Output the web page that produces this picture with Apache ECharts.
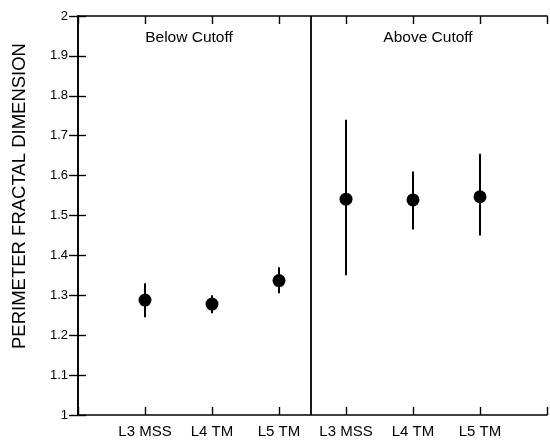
<!DOCTYPE html>
<html>
<head>
<meta charset="utf-8">
<script src="https://cdn.jsdelivr.net/npm/echarts@6/dist/echarts.min.js"></script>
<style>html,body{margin:0;padding:0;background:#fff}#c{width:550px;height:441px}</style>
</head>
<body>
<div id="c"></div>
<script>
// ---- data ----
var positions = [1, 2, 3, 4, 5, 6];
var categories = ['L3 MSS', 'L4 TM', 'L5 TM', 'L3 MSS', 'L4 TM', 'L5 TM'];
var means = [1.288, 1.278, 1.337, 1.541, 1.539, 1.547];
var upper = [1.33, 1.30, 1.37, 1.74, 1.61, 1.655];
var lower = [1.245, 1.255, 1.305, 1.35, 1.465, 1.45];
var dividerX = 3.466;
var panelLabels = ['Below Cutoff', 'Above Cutoff'];
var yTitle = 'PERIMETER FRACTAL DIMENSION';

var FONT = '"Liberation Sans", Arial, Helvetica, sans-serif';
var chart = echarts.init(document.getElementById('c'), null, {renderer: 'canvas'});

var pointData = positions.map(function (p, i) { return [p, means[i]]; });
var barData = positions.map(function (p, i) { return [p, lower[i], upper[i]]; });

function catLabel(v) {
  var r = Math.round(v);
  var i = positions.indexOf(r);
  return (Math.abs(v - r) < 1e-6 && i >= 0) ? categories[i] : '';
}

var axisLineStyle = {color: '#000', width: 1.6};
var tickStyle = {color: '#000', width: 1.4};

var option = {
  backgroundColor: '#fff',
  animation: false,
  grid: {left: 78, top: 16, width: 474, height: 399, containLabel: false},
  xAxis: [{
    type: 'value', min: 0, max: 7, interval: 1, position: 'bottom',
    splitLine: {show: false},
    axisLine: {show: true, lineStyle: axisLineStyle},
    axisTick: {show: true, inside: true, length: 8, lineStyle: tickStyle},
    axisLabel: {formatter: catLabel, color: '#000', fontSize: 15, fontFamily: FONT, margin: 9}
  }, {
    type: 'value', min: 0, max: 7, interval: 1, position: 'top',
    splitLine: {show: false},
    axisLine: {show: true, lineStyle: axisLineStyle},
    axisTick: {show: true, inside: true, length: 8, lineStyle: tickStyle},
    axisLabel: {show: false}
  }],
  yAxis: [{
    type: 'value', min: 1, max: 2, interval: 0.1, position: 'left',
    splitLine: {show: false},
    axisLine: {show: true, lineStyle: axisLineStyle},
    axisTick: {show: true, inside: true, length: 8, lineStyle: tickStyle},
    axisLabel: {
      formatter: function (v) { return String(Math.round(v * 10) / 10); },
      color: '#000', fontSize: 13, fontFamily: FONT, margin: 10
    }
  }, {
    type: 'value', min: 1, max: 2, interval: 0.1, position: 'right',
    splitLine: {show: false},
    axisLine: {show: true, lineStyle: axisLineStyle},
    axisTick: {show: true, inside: true, length: 9, lineStyle: tickStyle},
    axisLabel: {show: false}
  }],
  series: [{
    type: 'custom',
    xAxisIndex: 0, yAxisIndex: 0,
    data: barData,
    renderItem: function (params, api) {
      var top = api.coord([api.value(0), api.value(2)]);
      var bot = api.coord([api.value(0), api.value(1)]);
      return {
        type: 'line',
        shape: {x1: top[0], y1: top[1], x2: bot[0], y2: bot[1]},
        style: {stroke: '#000', lineWidth: 2}
      };
    },
    z: 2
  }, {
    type: 'scatter',
    xAxisIndex: 0, yAxisIndex: 0,
    data: pointData,
    symbol: 'circle', symbolSize: 13,
    itemStyle: {color: '#000', opacity: 1},
    emphasis: {disabled: true},
    z: 3
  }, {
    type: 'line',
    xAxisIndex: 0, yAxisIndex: 0,
    data: [],
    markLine: {
      silent: true, symbol: ['none', 'none'],
      label: {show: false},
      lineStyle: {color: '#000', width: 1.8, type: 'solid', opacity: 1},
      data: [{xAxis: dividerX}]
    }
  }],
  graphic: [{
    type: 'text', x: 189, y: 38,
    style: {text: panelLabels[0], fill: '#000', font: '15.5px ' + FONT, textAlign: 'center', textVerticalAlign: 'middle'}
  }, {
    type: 'text', x: 428, y: 38,
    style: {text: panelLabels[1], fill: '#000', font: '15.5px ' + FONT, textAlign: 'center', textVerticalAlign: 'middle'}
  }, {
    type: 'text', x: 20, y: 196, rotation: Math.PI / 2,
    style: {text: yTitle, fill: '#000', font: '18.5px ' + FONT, textAlign: 'center', textVerticalAlign: 'middle'}
  }]
};
chart.setOption(option);
</script>
</body>
</html>
